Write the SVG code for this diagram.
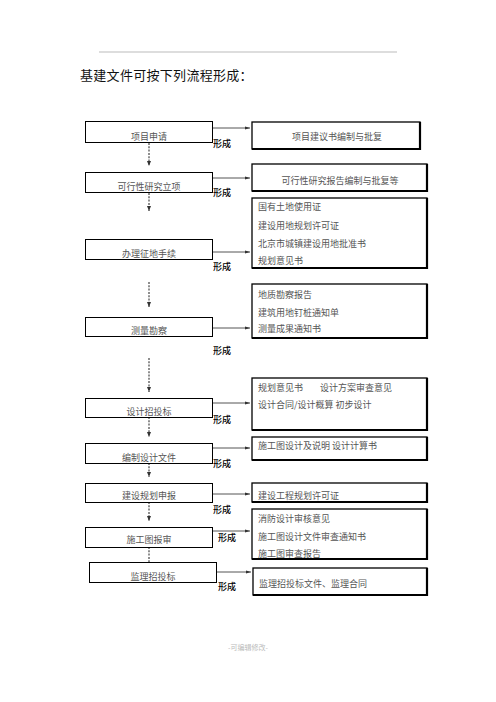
<svg xmlns="http://www.w3.org/2000/svg" width="496" height="702" viewBox="0 0 496 702">
<defs>
<style>
.bx{fill:#fff;stroke:#000;stroke-width:1}
.rb{fill:#fff;stroke:#000;stroke-width:1.3}
.sh{fill:none;stroke:#000;stroke-width:2.2}
.t{font-family:"Noto Sans CJK SC","Noto Sans CJK JP",sans-serif;font-size:9px;fill:#555}
.f{font-family:"Noto Sans CJK SC","Noto Sans CJK JP",sans-serif;font-size:9px;fill:#000;font-weight:500}
.h{stroke:#555;stroke-width:1;fill:none}
.v{stroke:#444;stroke-width:1.2;stroke-dasharray:2 1.3;fill:none}
</style>
<marker id="ah" markerWidth="6" markerHeight="6" refX="5" refY="3" orient="auto" markerUnits="userSpaceOnUse">
<path d="M0,1.5 L5,3 L0,4.5 Z" fill="#333"/>
</marker>
<marker id="av" markerWidth="6" markerHeight="6" refX="3" refY="5" orient="0" markerUnits="userSpaceOnUse">
<path d="M1,0 L3,5 L5,0 Z" fill="#333"/>
</marker>
</defs>
<rect width="496" height="702" fill="#fff"/>
<line x1="99" y1="52" x2="397" y2="52" stroke="#aaa" stroke-width="0.8"/>
<text x="80" y="80" font-family="'Noto Sans CJK SC','Noto Sans CJK JP',sans-serif" font-size="13" letter-spacing="0.3" fill="#111">基建文件可按下列流程形成：</text>

<g id="connectors">
<path class="h" d="M213,128 H250" marker-end="url(#ah)"/>
<path class="h" d="M213,178 H250" marker-end="url(#ah)"/>
<path class="h" d="M213,252 H250" stroke="#111" marker-end="url(#ah)"/>
<path class="h" d="M213,328 H250" stroke="#111" marker-end="url(#ah)"/>
<path class="h" d="M213,403 H250" stroke="#111" marker-end="url(#ah)"/>
<path class="h" d="M213,448 H250" stroke="#111" marker-end="url(#ah)"/>
<path class="h" d="M213,494 H250" stroke="#111" marker-end="url(#ah)"/>
<path class="h" d="M213,531 H250" stroke-width="2" marker-end="url(#ah)"/>
<path class="h" d="M217,572 H251" stroke-width="1.3" marker-end="url(#ah)"/>
<path class="v" d="M149,143 V166" marker-end="url(#av)"/>
<path class="v" d="M149,193 V211" marker-end="url(#av)"/>
<path class="v" d="M149,282 V307" marker-end="url(#av)"/>
<path class="v" d="M149,358 V392" marker-end="url(#av)"/>
<path class="v" d="M149,417 V437" marker-end="url(#av)"/>
<path class="v" d="M149,463 V477" marker-end="url(#av)"/>
<path class="v" d="M149,502 V521" marker-end="url(#av)"/>
<path class="v" d="M149,547 V565"/>
<text class="f" x="213" y="147">形成</text>
<text class="f" x="213" y="196">形成</text>
<text class="f" x="213" y="270">形成</text>
<text class="f" x="213" y="354">形成</text>
<text class="f" x="213" y="423">形成</text>
<text class="f" x="213" y="467">形成</text>
<text class="f" x="213" y="513">形成</text>
<text class="f" x="218" y="541">形成</text>
<text class="f" x="218" y="590">形成</text>
</g>

<g id="n1"><rect class="bx" x="85.5" y="121.5" width="127" height="21"/><text class="t" x="149" y="140" text-anchor="middle">项目申请</text></g>
<g id="n2"><rect class="bx" x="85.5" y="172.5" width="127" height="20"/><text class="t" x="149" y="190" text-anchor="middle">可行性研究立项</text></g>
<g id="n3"><rect class="bx" x="85.5" y="239.5" width="127" height="20"/><text class="t" x="149" y="257" text-anchor="middle">办理征地手续</text></g>
<g id="n4"><rect class="bx" x="85.5" y="317.5" width="127" height="19"/><text class="t" x="149" y="334" text-anchor="middle">测量勘察</text></g>
<g id="n5"><rect class="bx" x="85.5" y="398.5" width="127" height="19"/><text class="t" x="149" y="415" text-anchor="middle">设计招投标</text></g>
<g id="n6"><rect class="bx" x="85.5" y="443.5" width="127" height="20"/><text class="t" x="149" y="461" text-anchor="middle">编制设计文件</text></g>
<g id="n7"><rect class="bx" x="85.5" y="483.5" width="127" height="19"/><text class="t" x="149" y="499" text-anchor="middle">建设规划申报</text></g>
<g id="n8"><rect class="bx" x="85.5" y="527.5" width="127" height="20"/><text class="t" x="149" y="543" text-anchor="middle">施工图报审</text></g>
<g id="n9"><rect class="bx" x="89.5" y="562.5" width="127" height="20"/><text class="t" x="153" y="580" text-anchor="middle">监理招投标</text></g>

<g id="r1"><rect class="rb" x="252" y="122" width="168" height="27"/><path class="sh" d="M252,149 H420 V122"/><text class="t" x="337" y="140" text-anchor="middle">项目建议书编制与批复</text></g>
<g id="r2"><rect class="rb" x="252" y="164" width="175" height="27"/><path class="sh" d="M252,191 H427 V164"/><text class="t" x="340" y="184" text-anchor="middle">可行性研究报告编制与批复等</text></g>
<g id="r3"><rect class="rb" x="252" y="198" width="175" height="70"/><path class="sh" d="M252,268 H427 V198"/>
<text class="t" x="258" y="210">国有土地使用证</text><text class="t" x="258" y="229">建设用地规划许可证</text><text class="t" x="258" y="247">北京市城镇建设用地批准书</text><text class="t" x="258" y="264">规划意见书</text></g>
<g id="r4"><rect class="rb" x="252" y="284" width="175" height="54"/><path class="sh" d="M252,338 H427 V284"/>
<text class="t" x="258" y="298">地质勘察报告</text><text class="t" x="258" y="316">建筑用地钉桩通知单</text><text class="t" x="258" y="332">测量成果通知书</text></g>
<g id="r5"><rect class="rb" x="252" y="378" width="175" height="52"/><path class="sh" d="M252,430 H427 V378"/>
<text class="t" x="258" y="391">规划意见书</text><text class="t" x="320" y="391">设计方案审查意见</text><text class="t" x="258" y="408">设计合同/设计概算  初步设计</text></g>
<g id="r6"><rect class="rb" x="252" y="437" width="175" height="23"/><path class="sh" d="M252,460 H427 V437"/><text class="t" x="258" y="449">施工图设计及说明  设计计算书</text></g>
<g id="r7"><rect class="rb" x="252" y="483" width="175" height="19"/><path class="sh" d="M252,502 H427 V483"/><text class="t" x="258" y="499">建设工程规划许可证</text></g>
<g id="r8"><rect class="rb" x="252" y="509" width="175" height="50"/><path class="sh" d="M252,559 H427 V509"/>
<text class="t" x="258" y="522">消防设计审核意见</text><text class="t" x="258" y="540">施工图设计文件审查通知书</text><text class="t" x="258" y="557">施工图审查报告</text></g>
<g id="r9"><rect class="rb" x="253" y="568" width="174" height="27"/><path class="sh" d="M253,595 H427 V568"/><text class="t" x="259" y="587">监理招投标文件、监理合同</text></g>

<text x="248" y="650" text-anchor="middle" font-family="'Noto Sans CJK SC',sans-serif" font-size="7" fill="#bbb">-可编辑修改-</text>
</svg>
